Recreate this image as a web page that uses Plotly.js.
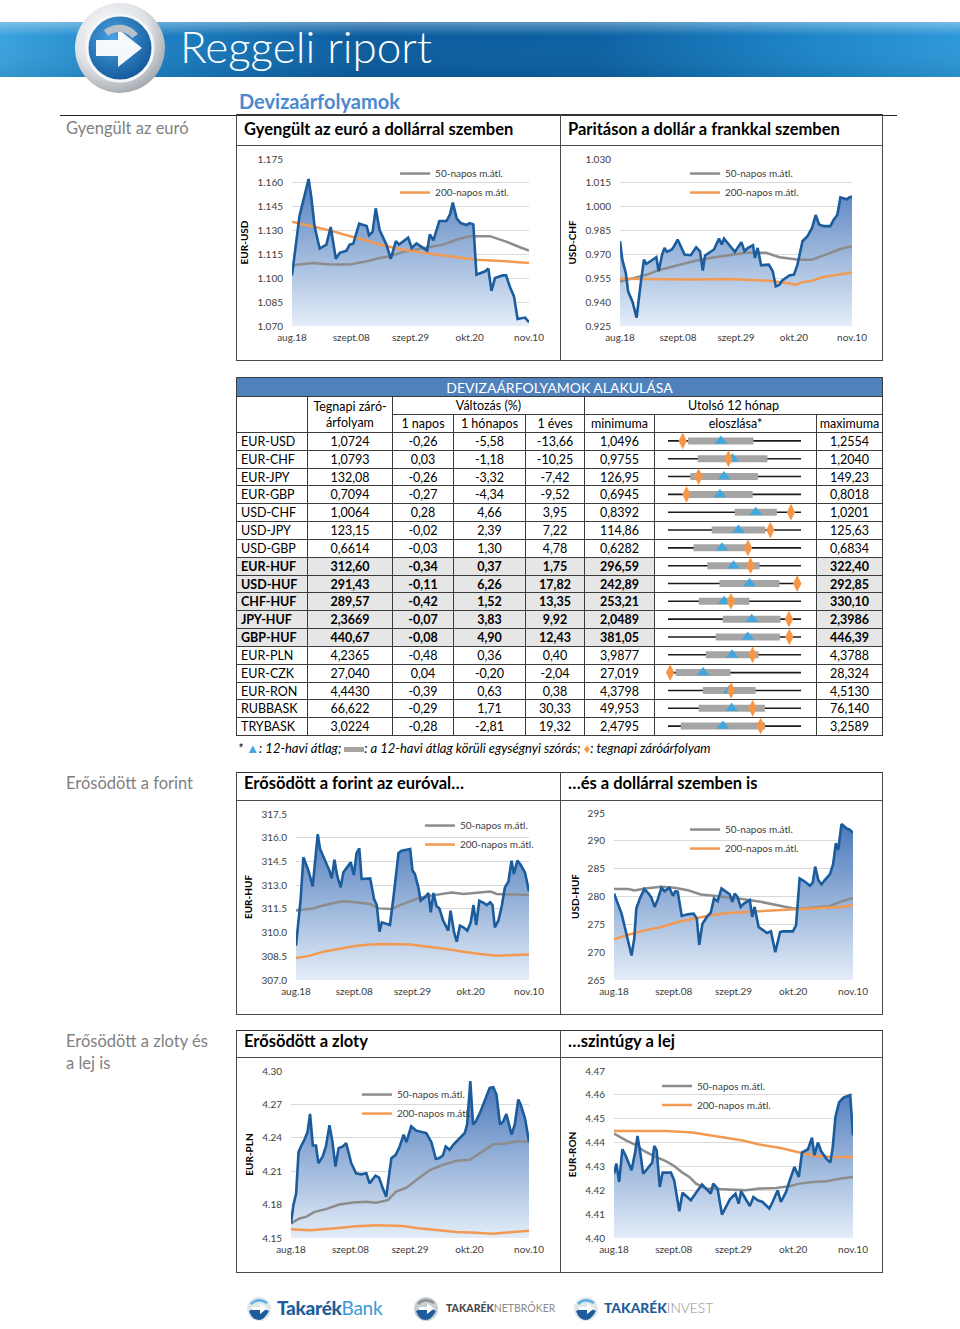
<!DOCTYPE html>
<html><head><meta charset="utf-8">
<script src="https://cdn.plot.ly/plotly-3.0.1.min.js"></script>
<style>
body{margin:0;background:#fff;}
#page{position:relative;width:960px;height:1329px;overflow:hidden;font-family:Lato,"Open Sans",sans-serif;background:#fff;}
.ln{position:absolute;background:#4a4a4a;}
.side{position:absolute;left:66px;color:#7f7f7f;font-size:16.5px;line-height:22px;white-space:nowrap;}
.boxhdr{position:absolute;font-weight:bold;font-size:16.5px;color:#000;white-space:nowrap;line-height:20px;}
.chart{position:absolute;}
.cell{position:absolute;box-sizing:border-box;border:1px solid #3c3c3c;display:flex;align-items:center;justify-content:center;font-size:12.5px;color:#000;white-space:nowrap;}
.cell.l{justify-content:flex-start;padding-left:4px;}
</style></head>
<body><div id="page">

<svg class="chart" style="left:0;top:0" width="960" height="100">
  <defs>
    <linearGradient id="band" x1="0" x2="1" y1="0" y2="0">
      <stop offset="0" stop-color="#3aa2de"/>
      <stop offset="0.14" stop-color="#1e84c7"/>
      <stop offset="0.38" stop-color="#0b5c9e"/>
      <stop offset="0.62" stop-color="#0c61a3"/>
      <stop offset="0.85" stop-color="#1d86c9"/>
      <stop offset="1" stop-color="#2d98d9"/>
    </linearGradient>
    <linearGradient id="hi" x1="0" x2="0" y1="0" y2="1">
      <stop offset="0" stop-color="#ffffff" stop-opacity="0.35"/>
      <stop offset="0.25" stop-color="#ffffff" stop-opacity="0"/>
      <stop offset="1" stop-color="#000000" stop-opacity="0.08"/>
    </linearGradient>
    <radialGradient id="silver" cx="0.4" cy="0.35" r="0.7">
      <stop offset="0" stop-color="#ffffff"/>
      <stop offset="0.6" stop-color="#dfe2e6"/>
      <stop offset="1" stop-color="#9ea4ab"/>
    </radialGradient>
    <radialGradient id="blueball" cx="0.4" cy="0.35" r="0.75">
      <stop offset="0" stop-color="#4aa3e3"/>
      <stop offset="1" stop-color="#0d4f91"/>
    </radialGradient>
  </defs>
  <rect x="0" y="22" width="960" height="55" fill="url(#band)"/>
  <rect x="0" y="22" width="960" height="55" fill="url(#hi)"/>
  <circle cx="120" cy="48" r="45" fill="url(#silver)"/>
  <circle cx="120" cy="48" r="33" fill="url(#blueball)" stroke="#f4f6f8" stroke-width="3"/>
  <path d="M96 40 L118 40 L118 29 L142 48 L118 67 L118 56 L96 56 Z" fill="#ffffff" opacity="0.95"/>
  <path d="M104 30 A24 24 0 0 1 138 34 L132 38 A17 17 0 0 0 108 36 Z" fill="#b9c0c8"/>
  <text x="180" y="63" font-size="44" font-weight="300" fill="#ffffff" font-family="Lato, sans-serif">Reggeli riport</text>
</svg>

<div style="position:absolute;left:239px;top:89px;font-size:20px;font-weight:bold;color:#4a89cf;">Devizaárfolyamok</div>
<div class="ln" style="left:60px;top:115px;width:837px;height:1px;background:#222;"></div>

<div class="side" style="top:117px;">Gyengült az euró</div>
<div class="side" style="top:772px;">Erősödött a forint</div>
<div class="side" style="top:1030px;">Erősödött a zloty és<br>a lej is</div>

<div class="boxhdr" style="left:244px;top:119px;">Gyengült az euró a dollárral szemben</div>
<div class="boxhdr" style="left:568px;top:119px;">Paritáson a dollár a frankkal szemben</div>
<div class="boxhdr" style="left:244px;top:773px;">Erősödött a forint az euróval…</div>
<div class="boxhdr" style="left:568px;top:773px;">…és a dollárral szemben is</div>
<div class="boxhdr" style="left:244px;top:1031px;">Erősödött a zloty</div>
<div class="boxhdr" style="left:568px;top:1031px;">…szintúgy a lej</div>

<div id="c1" class="chart" style="left:236px;top:145px;"></div>
<div id="c2" class="chart" style="left:560px;top:145px;"></div>
<div id="c3" class="chart" style="left:236px;top:800px;"></div>
<div id="c4" class="chart" style="left:560px;top:800px;"></div>
<div id="c5" class="chart" style="left:236px;top:1057px;"></div>
<div id="c6" class="chart" style="left:560px;top:1057px;"></div>

<div id="tbl"></div>
<div id="dist" class="chart" style="left:655px;top:432px;"></div>

<div style="position:absolute;left:238px;top:739px;font-size:13px;font-style:italic;white-space:nowrap;line-height:18px;">
* <span style="color:#41a7df;font-style:normal;">▲</span>: 12-havi átlag; <span style="display:inline-block;width:20px;height:5px;background:#a5a5a5;vertical-align:middle;"></span>: a 12-havi átlag körüli egységnyi szórás; <span style="color:#f79646;font-style:normal;">♦</span>: tegnapi záróárfolyam
</div>

<div id="footer"></div>
</div>

<script>
// ---------- shared axis labels ----------
const xTickPos = [0, 15, 30, 45, 60];
const xTickLabels = ['aug.18', 'szept.08', 'szept.29', 'okt.20', 'nov.10'];
const legendNames = ['50-napos m.átl.', '200-napos m.átl.'];

// ---------- EUR-USD ----------
const eurusdX = [0,1.9,4.2,4.9,5.7,7.0,8.7,9.8,11.1,12.1,13.8,14.6,15.5,17.0,18.9,19.5,20.4,21.2,22.2,23.9,25.0,25.6,26.3,27.1,28.1,29.4,30.3,31.5,33.2,34.2,34.9,35.8,37.3,39.1,40.0,40.7,41.7,42.7,44.2,44.9,45.9,46.7,48.9,49.7,50.5,51.4,53.3,54.2,55.2,56.2,57.1,59.0,60];
const eurusd = [1.1018,1.1392,1.1624,1.1508,1.1328,1.1187,1.1212,1.1322,1.1122,1.1160,1.1174,1.1212,1.1217,1.1343,1.1328,1.1271,1.1292,1.1440,1.1301,1.1212,1.1122,1.1174,1.1233,1.1212,1.1233,1.1255,1.1191,1.1219,1.1191,1.1174,1.1276,1.1238,1.1360,1.1360,1.1402,1.1476,1.1377,1.1347,1.1335,1.1347,1.1339,1.1023,1.1044,1.1061,1.0921,1.1002,1.1018,1.1018,1.0943,1.0886,1.0744,1.0753,1.0724];
const eurusdMa50X = [0,5.3,9.6,14.6,18.9,22.2,24.8,28.1,31.5,34.9,38.3,41.7,45.1,50.1,54.4,57.7,60];
const eurusdMa50 = [1.1082,1.1096,1.1086,1.1086,1.1107,1.1128,1.1139,1.1166,1.1181,1.1198,1.1212,1.1244,1.1265,1.1265,1.1229,1.1195,1.1174];
const eurusdMa200X = [0,5.3,9.6,13.8,18.0,22.2,26.5,31.5,36.6,41.7,46.7,51.8,56.9,60];
const eurusdMa200 = [1.1356,1.1328,1.1301,1.1271,1.1244,1.1212,1.1187,1.1166,1.1149,1.1132,1.1117,1.1111,1.1103,1.1096];

// ---------- USD-CHF ----------
const usdchfX = [0,0.6,1.5,2.1,3.2,4.3,5.3,6.2,6.8,7.9,9.4,10.0,10.9,11.5,12.1,13.4,14.0,14.9,15.8,16.7,18.3,19.7,20.7,21.4,22.0,23.2,24.3,25.6,26.3,26.9,28.4,29.7,31.4,32.2,33.1,34.4,34.9,35.6,36.5,38.5,39.5,40.3,41.2,41.9,43.8,45.0,45.9,46.3,47.2,48.5,49.7,50.6,51.5,52.7,54.4,55.3,56.2,57.0,58.7,59.3,60];
const usdchf = [0.9783,0.9667,0.9583,0.9467,0.9404,0.9303,0.9509,0.9667,0.9640,0.9657,0.9682,0.9594,0.9699,0.9741,0.9716,0.9731,0.9752,0.9794,0.9745,0.9699,0.9695,0.9745,0.9720,0.9598,0.9693,0.9710,0.9731,0.9800,0.9762,0.9800,0.9752,0.9716,0.9777,0.9720,0.9741,0.9758,0.9678,0.9741,0.9632,0.9636,0.9594,0.9499,0.9509,0.9535,0.9568,0.9573,0.9636,0.9689,0.9783,0.9815,0.9868,0.9948,0.9889,0.9878,0.9878,0.9920,0.9948,1.0058,1.0047,1.0058,1.0064];
const usdchfMa50X = [0,4.4,7.0,10.4,14.7,19.0,23.2,27.5,32.6,37.8,41.2,46.3,49.7,53.2,57.4,60];
const usdchfMa50 = [0.9530,0.9556,0.9573,0.9604,0.9632,0.9657,0.9678,0.9693,0.9710,0.9710,0.9682,0.9667,0.9667,0.9699,0.9737,0.9752];
const usdchfMa200X = [0,4.4,10.4,19.0,27.5,34.4,38.7,43.0,45.6,47.2,49.7,52.3,55.7,60];
const usdchfMa200 = [0.9547,0.9545,0.9543,0.9543,0.9545,0.9541,0.9535,0.9520,0.9510,0.9526,0.9535,0.9556,0.9568,0.9587];

// ---------- EUR-HUF ----------
const eurhufX = [0,0.6,1.2,1.9,3.2,4.3,5.6,6.2,7.5,8.6,9.2,9.9,10.6,11.5,12.2,13.2,14.1,14.9,15.6,16.3,16.9,19.1,20.1,20.8,21.5,22.1,23.2,24.2,25.2,26.4,27.2,29.4,30.0,30.6,31.5,32.1,33.2,34.1,34.7,35.4,36.2,36.9,37.9,39.2,39.8,40.7,41.4,42.2,43.1,44.1,45.0,45.7,46.4,47.2,48.4,49.1,50.0,50.6,51.2,52.1,53.0,53.8,54.7,55.5,56.1,57.0,57.9,59.0,60];
const eurhuf = [309.17,310.44,312.12,314.76,313.92,312.92,316.23,315.29,314.55,313.92,313.43,314.61,313.60,312.86,313.81,314.13,314.44,313.64,315.03,315.33,313.39,313.43,312.12,311.74,310.06,310.65,310.54,310.48,312.44,315.03,315.18,315.29,313.92,313.71,312.86,312.02,312.23,312.50,311.28,312.50,311.66,311.53,310.75,310.12,311.39,310.02,309.42,310.44,310.33,310.12,310.65,311.74,310.48,312.02,311.87,311.74,311.91,311.74,310.33,310.75,311.70,312.86,313.22,314.55,313.71,314.55,314.27,313.77,312.60];
const eurhufMa50X = [0,4.5,6.2,8.8,11.3,13.0,15.6,19.1,21.2,24.6,26.8,28.9,31.5,34.5,37.1,40.1,43.1,46.5,50.1,51.7,56.0,60];
const eurhufMa50 = [311.39,311.53,311.66,311.81,311.95,311.98,311.91,311.81,311.53,311.49,311.74,311.95,312.17,312.33,312.44,312.54,312.44,312.50,312.59,312.44,312.40,312.38];
const eurhufMa200X = [0,3.6,7.0,11.3,15.6,19.1,22.5,29.4,34.5,38.8,43.1,47.4,51.7,56.0,60];
const eurhufMa200 = [308.39,308.54,308.79,309.00,309.17,309.24,309.28,309.24,309.11,308.96,308.79,308.64,308.54,308.58,308.62];

// ---------- USD-HUF ----------
const usdhufX = [0,1.1,1.9,2.7,3.6,4.4,5.1,5.6,6.5,7.6,8.7,9.4,10.2,11.0,11.9,12.7,13.9,14.8,15.4,16.0,17.0,18.5,20.0,20.8,21.4,22.2,23.5,24.3,25.1,26.0,27.0,28.0,29.1,29.7,30.3,31.0,31.8,32.6,34.1,34.7,35.3,36.3,37.2,38.4,39.4,40.5,41.7,42.4,43.8,44.9,45.7,46.6,47.7,49.2,49.9,50.5,51.3,52.1,52.9,54.2,55.0,55.7,56.3,57.1,58.3,59.2,60];
const usdhuf = [280.54,278.55,276.93,274.52,271.69,269.40,272.53,277.83,279.64,281.33,280.54,279.76,278.13,279.52,281.57,280.96,281.57,280.12,280.96,280.84,276.51,276.81,276.93,276.02,271.33,275.12,276.51,277.11,279.64,279.16,281.45,280.96,280.36,279.04,280.54,279.94,278.13,278.73,279.34,276.33,278.13,274.52,274.10,273.43,273.73,270.00,273.61,273.73,273.73,273.73,274.82,283.25,282.77,281.93,282.53,285.36,282.95,282.17,282.95,283.98,285.78,289.58,288.37,293.01,292.29,291.99,291.43];
const usdhufMa50X = [0,3.6,5.2,7.7,11.9,15.2,18.5,21.8,25.1,28.5,32.6,36.8,40.1,42.2,45.1,47.6,51.7,54.2,56.7,60];
const usdhufMa50 = [281.33,281.33,281.08,281.45,281.75,281.57,281.14,280.36,280.12,279.88,279.52,279.04,278.55,278.13,277.83,277.83,278.13,278.31,279.04,279.76];
const usdhufMa200X = [0,3.6,7.7,11.9,16.0,20.2,24.3,28.5,33.4,38.4,43.4,46.7,51.7,56.7,60];
const usdhufMa200 = [272.29,273.13,273.92,274.52,275.42,276.02,276.63,277.05,277.23,277.47,277.65,277.71,277.83,278.13,278.43];

// ---------- EUR-PLN ----------
const eurplnX = [0,0.6,1.3,1.9,2.5,3.4,4.2,4.8,5.5,6.3,6.9,8.0,8.8,9.7,10.5,11.2,12.0,13.1,13.9,15.2,16.4,17.7,19.0,19.8,21.3,22.2,23.0,24.0,25.3,26.4,27.4,28.4,29.1,30.3,31.6,32.9,34.1,35.4,36.5,37.3,38.3,39.0,40.0,40.9,42.1,43.0,43.8,44.4,45.2,45.9,46.6,47.8,49.3,50.1,51.0,51.8,52.7,53.5,54.3,55.6,56.4,57.3,57.9,59.0,60];
const eurpln = [4.1630,4.1795,4.1901,4.2271,4.2322,4.2383,4.2458,4.2614,4.2331,4.2331,4.2172,4.2232,4.2322,4.2512,4.2352,4.2142,4.2307,4.2322,4.2352,4.2172,4.2081,4.2072,4.2081,4.1991,4.2060,4.2042,4.1961,4.1870,4.2217,4.2247,4.2322,4.2428,4.2361,4.2503,4.2464,4.2452,4.2443,4.2361,4.2211,4.2217,4.2241,4.2322,4.2292,4.2337,4.2383,4.2413,4.2443,4.2518,4.2910,4.2518,4.2548,4.2639,4.2783,4.2849,4.2855,4.2789,4.2518,4.2548,4.2614,4.2428,4.2518,4.2744,4.2699,4.2572,4.2365];
const eurplnMa50X = [0,2.1,3.8,5.9,8.8,12.2,15.6,18.9,21.5,24.4,26.5,29.1,31.6,35.0,38.3,41.7,45.1,48.4,51.0,54.3,56.9,60];
const eurplnMa50 = [4.1630,4.1675,4.1690,4.1735,4.1759,4.1801,4.1819,4.1825,4.1816,4.1840,4.1916,4.1952,4.2021,4.2111,4.2157,4.2193,4.2202,4.2277,4.2343,4.2352,4.2367,4.2367];
const eurplnMa200X = [0,4.6,9.7,16.4,21.5,28.2,31.6,36.6,41.7,46.7,50.9,56.0,60];
const eurplnMa200 = [4.1578,4.1569,4.1584,4.1605,4.1614,4.1608,4.1590,4.1569,4.1554,4.1548,4.1539,4.1554,4.1566];

// ---------- EUR-RON ----------
const eurronX = [0,0.6,1.3,2.1,2.9,3.8,4.4,5.3,5.9,6.7,7.3,8.1,9.0,9.6,10.1,10.7,11.5,12.2,13.2,14.3,15.1,16.4,17.2,18.0,19.3,20.6,22.1,23.1,24.3,24.9,26.0,27.1,28.1,29.1,30.5,31.3,31.9,33.0,34.1,35.0,36.1,37.3,39.0,39.8,41.1,41.9,43.2,44.2,45.3,46.4,47.2,48.7,49.7,50.3,51.2,52.0,53.3,54.3,54.9,55.6,56.5,57.6,59.3,60];
const eurron = [4.4270,4.4312,4.4235,4.4372,4.4347,4.4312,4.4284,4.4358,4.4428,4.4347,4.4270,4.4284,4.4302,4.4316,4.4386,4.4368,4.4214,4.4274,4.4274,4.4274,4.4242,4.4112,4.4190,4.4179,4.4158,4.4190,4.4224,4.4207,4.4186,4.4228,4.4207,4.4098,4.4130,4.4162,4.4186,4.4144,4.4196,4.4165,4.4134,4.4172,4.4158,4.4151,4.4123,4.4151,4.4200,4.4151,4.4193,4.4246,4.4298,4.4256,4.4358,4.4372,4.4420,4.4347,4.4400,4.4364,4.4333,4.4316,4.4378,4.4508,4.4568,4.4588,4.4599,4.4430];
const eurronMa50X = [0,2.9,5.5,7.6,10.5,13.0,15.1,17.2,18.9,20.6,23.1,26.4,29.8,33.1,36.5,40.7,44.0,46.6,49.9,53.3,57.0,60];
const eurronMa50 = [4.4438,4.4410,4.4389,4.4364,4.4340,4.4322,4.4302,4.4274,4.4256,4.4228,4.4207,4.4204,4.4204,4.4200,4.4207,4.4210,4.4217,4.4228,4.4235,4.4238,4.4249,4.4256];
const eurronMa200X = [0,6.3,13.0,19.7,23.9,28.1,32.3,36.5,41.5,46.6,50.8,55.0,60];
const eurronMa200 = [4.4448,4.4448,4.4448,4.4442,4.4431,4.4420,4.4409,4.4392,4.4378,4.4358,4.4344,4.4340,4.4340];

// ---------- table ----------
const pairs = ['EUR-USD','EUR-CHF','EUR-JPY','EUR-GBP','USD-CHF','USD-JPY','USD-GBP','EUR-HUF','USD-HUF','CHF-HUF','JPY-HUF','GBP-HUF','EUR-PLN','EUR-CZK','EUR-RON','RUBBASK','TRYBASK'];
const closeRate = [1.0724,1.0793,132.08,0.7094,1.0064,123.15,0.6614,312.60,291.43,289.57,2.3669,440.67,4.2365,27.040,4.4430,66.622,3.0224];
const rateDecimals = [4,4,2,4,4,2,4,2,2,2,4,2,4,3,4,3,4];
const chg1d = [-0.26,0.03,-0.26,-0.27,0.28,-0.02,-0.03,-0.34,-0.11,-0.42,-0.07,-0.08,-0.48,0.04,-0.39,-0.29,-0.28];
const chg1m = [-5.58,-1.18,-3.32,-4.34,4.66,2.39,1.30,0.37,6.26,1.52,3.83,4.90,0.36,-0.20,0.63,1.71,-2.81];
const chg1y = [-13.66,-10.25,-7.42,-9.52,3.95,7.22,4.78,1.75,17.82,13.35,9.92,12.43,0.40,-2.04,0.38,30.33,19.32];
const min12 = [1.0496,0.9755,126.95,0.6945,0.8392,114.86,0.6282,296.59,242.89,253.21,2.0489,381.05,3.9877,27.019,4.3798,49.953,2.4795];
const max12 = [1.2554,1.2040,149.23,0.8018,1.0201,125.63,0.6834,322.40,292.85,330.10,2.3986,446.39,4.3788,28.324,4.5130,76.140,3.2589];
const avg12 = [1.1313,1.0865,136.36,0.7364,0.9586,120.57,0.6506,309.29,273.50,285.67,2.2688,420.25,4.1764,27.363,4.4411,62.50,2.8012];
const sd12 = [0.0506,0.0599,5.66,0.0264,0.0287,2.17,0.0118,5.08,11.26,14.65,0.0760,15.77,0.0776,0.269,0.0264,6.53,0.247];
const hufRow = [0,0,0,0,0,0,0,1,1,1,1,1,0,0,0,0,0];

const FONT = 'Lato, "Open Sans", sans-serif';

function drawFx(id, o) {
  const traces = [
    {x: o.x, y: o.y, type: 'scatter', mode: 'lines', fill: 'tozeroy',
     line: {width: 0, color: 'rgba(0,0,0,0)'}, fillcolor: '#9dbbe2',
     fillgradient: {type: 'vertical', colorscale: [[0, '#e4edf8'], [1, '#3f70b6']], start: o.range[0], stop: o.range[1]},
     showlegend: false, hoverinfo: 'skip'},
    {x: o.ma50x, y: o.ma50, type: 'scatter', mode: 'lines', name: legendNames[0], line: {color: '#8c8c8c', width: 2.5}},
    {x: o.ma200x, y: o.ma200, type: 'scatter', mode: 'lines', name: legendNames[1], line: {color: '#f39a52', width: 2.5}},
    {x: o.x, y: o.y, type: 'scatter', mode: 'lines', line: {color: '#1b5c9d', width: 2.6}, showlegend: false}
  ];
  const tf = {size: 10, color: '#404040', family: FONT};
  const layout = {
    width: o.w, height: o.h, margin: o.m,
    paper_bgcolor: 'rgba(0,0,0,0)', plot_bgcolor: 'rgba(0,0,0,0)',
    font: {family: FONT},
    showlegend: true,
    legend: {x: o.lx, y: o.ly, xanchor: 'left', yanchor: 'middle', bgcolor: 'rgba(0,0,0,0)',
             font: {size: 10, color: '#404040', family: FONT}, itemwidth: 30, tracegroupgap: 0},
    xaxis: {range: [0, 60], tickvals: xTickPos, ticktext: xTickLabels, showgrid: false, zeroline: false,
            showline: false, ticks: '', tickfont: tf, ticklabelstandoff: 4, fixedrange: true},
    yaxis: {range: o.range, tick0: o.range[0], dtick: o.dtick, tickformat: o.fmt, gridcolor: '#d9d9d9',
            gridwidth: 1, zeroline: false, showline: false, ticks: '', tickfont: tf, ticklabelstandoff: 8,
            title: {text: o.title, font: {size: 10, color: '#000', family: FONT, weight: 'bold'}, standoff: 6}, fixedrange: true}
  };
  Plotly.newPlot(id, traces, layout, {staticPlot: true, displayModeBar: false});
}

drawFx('c1', {x: eurusdX, y: eurusd, ma50x: eurusdMa50X, ma50: eurusdMa50, ma200x: eurusdMa200X, ma200: eurusdMa200,
  range: [1.070, 1.175], dtick: 0.015, fmt: '.3f', title: 'EUR-USD', w: 324, h: 215, m: {l: 56, r: 31, t: 14, b: 34}, lx: 0.435, ly: 0.856});
drawFx('c2', {x: usdchfX, y: usdchf, ma50x: usdchfMa50X, ma50: usdchfMa50, ma200x: usdchfMa200X, ma200: usdchfMa200,
  range: [0.925, 1.030], dtick: 0.015, fmt: '.3f', title: 'USD-CHF', w: 322, h: 215, m: {l: 60, r: 30, t: 14, b: 34}, lx: 0.28, ly: 0.856});
drawFx('c3', {x: eurhufX, y: eurhuf, ma50x: eurhufMa50X, ma50: eurhufMa50, ma200x: eurhufMa200X, ma200: eurhufMa200,
  range: [307.0, 317.5], dtick: 1.5, fmt: '.1f', title: 'EUR-HUF', w: 324, h: 214, m: {l: 60, r: 31, t: 13, b: 34}, lx: 0.532, ly: 0.868});
drawFx('c4', {x: usdhufX, y: usdhuf, ma50x: usdhufMa50X, ma50: usdhufMa50, ma200x: usdhufMa200X, ma200: usdhufMa200,
  range: [265, 295], dtick: 5, fmt: 'd', title: 'USD-HUF', w: 322, h: 214, m: {l: 54, r: 29, t: 13, b: 34}, lx: 0.297, ly: 0.844});
drawFx('c5', {x: eurplnX, y: eurpln, ma50x: eurplnMa50X, ma50: eurplnMa50, ma200x: eurplnMa200X, ma200: eurplnMa200,
  range: [4.15, 4.30], dtick: 0.03, fmt: '.2f', title: 'EUR-PLN', w: 324, h: 215, m: {l: 55, r: 31, t: 14, b: 34}, lx: 0.277, ly: 0.802});
drawFx('c6', {x: eurronX, y: eurron, ma50x: eurronMa50X, ma50: eurronMa50, ma200x: eurronMa200X, ma200: eurronMa200,
  range: [4.40, 4.47], dtick: 0.01, fmt: '.2f', title: 'EUR-RON', w: 322, h: 215, m: {l: 54, r: 29, t: 14, b: 34}, lx: 0.18, ly: 0.853});

// ---------- boxes (frames) ----------
const page = document.getElementById('page');
function line(x, y, w, h, color) {
  const d = document.createElement('div');
  d.className = 'ln';
  d.style.left = x + 'px'; d.style.top = y + 'px'; d.style.width = w + 'px'; d.style.height = h + 'px';
  if (color) d.style.background = color;
  page.appendChild(d);
}
function frame(top, hdr, bottom, topW) {
  line(236, top, 647, topW || 1, '#333');
  line(236, hdr, 647, 1);
  line(236, bottom, 647, 1);
  line(236, top, 1, bottom - top + 1);
  line(882, top, 1, bottom - top + 1);
  line(560, top, 1, bottom - top + 1);
}
frame(114, 145, 360, 2);
frame(772, 800, 1014);
frame(1030, 1057, 1272);

// ---------- table ----------
const cols = [236, 307, 392, 453, 525, 584, 654, 816, 882];
const tbl = document.getElementById('tbl');
function cell(x0, x1, y0, y1, text, opt) {
  opt = opt || {};
  const d = document.createElement('div');
  d.className = 'cell' + (opt.left ? ' l' : '');
  d.style.left = x0 + 'px'; d.style.top = y0 + 'px';
  d.style.width = (x1 - x0 + 1) + 'px'; d.style.height = (y1 - y0 + 1) + 'px';
  if (opt.bg) d.style.background = opt.bg;
  if (opt.bold) d.style.fontWeight = 'bold';
  if (opt.color) d.style.color = opt.color;
  if (opt.size) d.style.fontSize = opt.size + 'px';
  if (opt.center) { d.style.textAlign = 'center'; d.style.lineHeight = '16px'; }
  d.innerHTML = text;
  tbl.appendChild(d);
}
const fmt = (v, d) => v.toFixed(d).replace('.', ',');
cell(236, 882, 377, 396, 'DEVIZAÁRFOLYAMOK ALAKULÁSA', {bg: '#4f81bd', color: '#fff', size: 14});
cell(236, 307, 396, 432, '');
cell(307, 392, 396, 432, 'Tegnapi záró-<br>árfolyam', {center: true});
cell(392, 584, 396, 414, 'Változás (%)');
cell(584, 882, 396, 414, 'Utolsó 12 hónap');
const sub = ['1 napos', '1 hónapos', '1 éves', 'minimuma', 'eloszlása*', 'maximuma'];
for (let k = 0; k < sub.length; k++) cell(cols[k + 2], cols[k + 3], 414, 432, sub[k]);
const rowH = 303 / 17;
for (let i = 0; i < pairs.length; i++) {
  const y0 = Math.round(432 + i * rowH), y1 = Math.round(432 + (i + 1) * rowH);
  const o = hufRow[i] ? {bg: '#e6e6e6', bold: true} : {};
  const vals = [pairs[i], fmt(closeRate[i], rateDecimals[i]), fmt(chg1d[i], 2), fmt(chg1m[i], 2), fmt(chg1y[i], 2),
                fmt(min12[i], rateDecimals[i]), '', fmt(max12[i], rateDecimals[i])];
  for (let k = 0; k < vals.length; k++) {
    const opt = Object.assign({}, k === 6 ? {} : o);
    if (k === 0) opt.left = true;
    cell(cols[k], cols[k + 1], y0, y1, vals[k], opt);
  }
}

// ---------- distribution column ----------
const norm = (v, i) => (v - min12[i]) / (max12[i] - min12[i]);
const wx = [], wy = [], bx = [], by = [], tx = [], ty = [], dx = [], dy = [];
for (let i = 0; i < pairs.length; i++) {
  wx.push(norm(min12[i], i), norm(max12[i], i), null); wy.push(i, i, null);
  bx.push(norm(avg12[i] - sd12[i], i), norm(avg12[i] + sd12[i], i), null); by.push(i, i, null);
  tx.push(norm(avg12[i], i)); ty.push(i);
  dx.push(norm(closeRate[i], i)); dy.push(i);
}
Plotly.newPlot('dist', [
  {x: wx, y: wy, mode: 'lines', line: {color: '#1a1a1a', width: 1.6}, type: 'scatter'},
  {x: bx, y: by, mode: 'lines', line: {color: '#a5a5a5', width: 7}, type: 'scatter'},
  {x: tx, y: ty, mode: 'markers', marker: {symbol: 'triangle-up', size: 11, color: '#41a7df'}, type: 'scatter', cliponaxis: false},
  {x: dx, y: dy, mode: 'markers', marker: {symbol: 'diamond-tall', size: 12, color: '#f79646'}, type: 'scatter', cliponaxis: false}
], {
  width: 160, height: 303, margin: {l: 0, r: 0, t: 0, b: 0}, showlegend: false,
  paper_bgcolor: 'rgba(0,0,0,0)', plot_bgcolor: 'rgba(0,0,0,0)',
  xaxis: {range: [-13 / 133, 1 + 14 / 133], visible: false, fixedrange: true},
  yaxis: {range: [16.5, -0.5], visible: false, fixedrange: true}
}, {staticPlot: true, displayModeBar: false});

// ---------- footer logos ----------
const footer = document.getElementById('footer');
function icon(x, grey) {
  return '<svg style="position:absolute;left:' + x + 'px;top:1296px" width="26" height="26">' +
    '<circle cx="13" cy="13" r="12" fill="' + (grey ? '#c8cdd2' : '#dfe6ec') + '"/>' +
    '<path d="M3 15 Q13 9 23 15 Q18 24 13 24 Q6 24 3 15 Z" fill="#1d5d9b"/>' +
    '<path d="M6 11 L14 11 L14 7 L21 12.5 L14 18 L14 14 L6 14 Z" fill="#ffffff"/>' +
    '<path d="M5 8 Q12 1 21 7" stroke="' + (grey ? '#8a9096' : '#5aaee0') + '" stroke-width="2.5" fill="none"/></svg>';
}
footer.innerHTML =
  icon(246, false) +
  '<div style="position:absolute;left:277px;top:1296px;font-size:19px;font-weight:900;letter-spacing:-0.3px;white-space:nowrap;"><span style="color:#1d5d9b">Takarék</span><span style="color:#3a9ad9;font-weight:400">Bank</span></div>' +
  icon(413, true) +
  '<div style="position:absolute;left:446px;top:1302px;font-size:10.5px;white-space:nowrap;"><span style="color:#4a4a4a;font-weight:900">TAKARÉK</span><span style="color:#8a8a8a">NETBRÓKER</span></div>' +
  icon(573, false) +
  '<div style="position:absolute;left:604px;top:1299px;font-size:13.8px;white-space:nowrap;"><span style="color:#1d5d9b;font-weight:900">TAKARÉK</span><span style="color:#8a8f94;font-weight:300">INVEST</span></div>';
</script>
</body></html>
